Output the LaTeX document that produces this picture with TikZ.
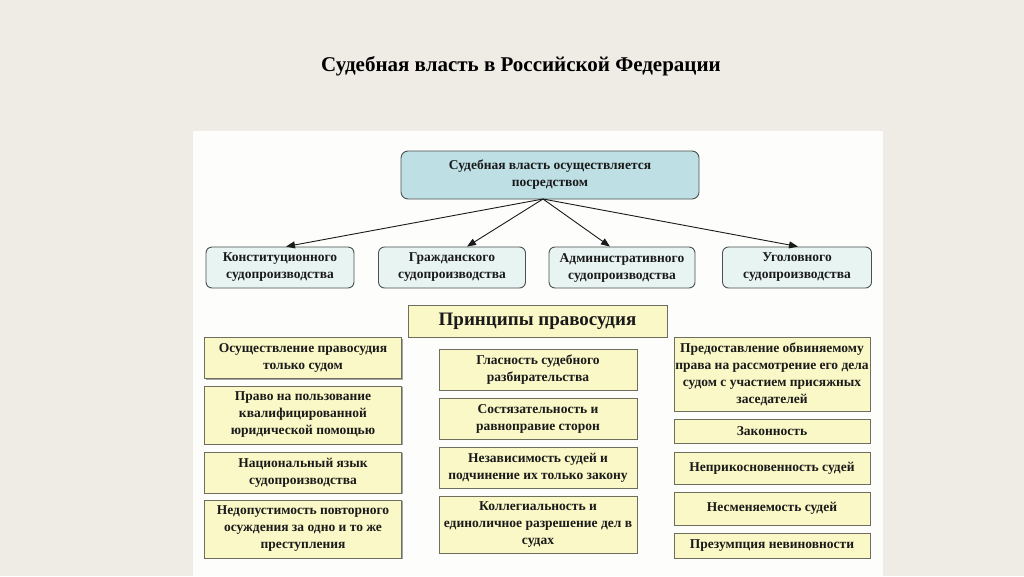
\documentclass[tikz,border=0pt]{standalone}
\usepackage{fontspec}
\setmainfont{Liberation Serif}
\usetikzlibrary{arrows.meta,shadows}
\definecolor{bgc}{HTML}{EFECE6}
\definecolor{panel}{HTML}{FDFDFC}
\definecolor{topfill}{HTML}{BEE0E5}
\definecolor{kindfill}{HTML}{E7F4F1}
\definecolor{boxline}{HTML}{4A4F4F}
\definecolor{yfill}{HTML}{FAF8C6}
\definecolor{yline}{HTML}{6E6E5E}
\definecolor{txt}{HTML}{1A1A1A}
\begin{document}
\begin{tikzpicture}[x=1pt,y=-1pt,
  boxfont/.style={font=\bfseries\fontsize{13.5}{17}\selectfont},
  topbox/.style={boxfont, draw=boxline, fill=topfill, rounded corners=7pt, line width=0.9pt,
    minimum width=298pt, minimum height=48pt, inner sep=0pt, align=center, text=txt},
  kindbox/.style={boxfont, draw=boxline, fill=kindfill, rounded corners=6pt, line width=0.9pt,
    minimum height=41pt, inner sep=0pt, align=center, text=txt},
  princbox/.style={boxfont, draw=yline, fill=yfill, line width=1pt, inner sep=0pt, align=center, text=txt,
    drop shadow={shadow xshift=1.2pt, shadow yshift=-1.2pt, fill=black, opacity=0.35}},
  lcol/.style={princbox, minimum width=197pt},
  mcol/.style={princbox, minimum width=198pt},
  rcol/.style={princbox, minimum width=196pt},
  arr/.style={-{Triangle[length=9pt,width=7pt]}, line width=0.9pt, draw=txt}
]
\useasboundingbox (0,0) rectangle (1024,576);
\fill[bgc] (0,0) rectangle (1024,576);
\fill[panel] (193,131) rectangle (883,576);

\node[font=\bfseries\fontsize{21}{24}\selectfont, text=black] (title) at (521,66) {Судебная власть в Российской Федерации};

\node[topbox] (src) at (550,175) {Судебная власть осуществляется\\посредством};
\coordinate (hub) at (543,199);

\node[kindbox, minimum width=148pt] (k1) at (280,267.5) {Конституционного\\судопроизводства};
\node[kindbox, minimum width=147pt] (k2) at (452,267.5) {Гражданского\\судопроизводства};
\node[kindbox, minimum width=146pt] (k3) at (622,267.5) {Административного\\судопроизводства};
\node[kindbox, minimum width=149pt] (k4) at (797,267.5) {Уголовного\\судопроизводства};

\draw[arr] (hub) -- ([xshift=6pt]k1.north);
\draw[arr] (hub) -- ([xshift=15pt]k2.north);
\draw[arr] (hub) -- ([xshift=-12pt]k3.north);
\draw[arr] (hub) -- ([xshift=1pt]k4.north);

\node[princbox, minimum width=259pt, minimum height=32pt, font=\bfseries\fontsize{19}{22}\selectfont] (hdr) at (537.5,321) {Принципы правосудия};

\node[lcol, minimum height=41pt] (l1) at (303,358) {Осуществление правосудия\\только судом};
\node[lcol, minimum height=58pt] (l2) at (303,415) {Право на пользование\\квалифицированной\\юридической помощью};
\node[lcol, minimum height=41pt] (l3) at (303,472.5) {Национальный язык\\судопроизводства};
\node[lcol, minimum height=58pt] (l4) at (303,529) {Недопустимость повторного\\осуждения за одно и то же\\преступления};

\node[mcol, minimum height=41pt] (m1) at (538,369.5) {Гласность судебного\\разбирательства};
\node[mcol, minimum height=41pt] (m2) at (538,418.5) {Состязательность и\\равноправие сторон};
\node[mcol, minimum height=41pt] (m3) at (538,467.5) {Независимость судей и\\подчинение их только закону};
\node[mcol, minimum height=57pt] (m4) at (538,524.5) {Коллегиальность и\\единоличное разрешение дел в\\судах};

\node[rcol, minimum height=74pt] (r1) at (772,374) {Предоставление обвиняемому\\права на рассмотрение его дела\\судом с участием присяжных\\заседателей};
\node[rcol, minimum height=24pt] (r2) at (772,431) {Законность};
\node[rcol, minimum height=32pt] (r3) at (772,468) {Неприкосновенность судей};
\node[rcol, minimum height=33pt] (r4) at (772,508.5) {Несменяемость судей};
\node[rcol, minimum height=25pt] (r5) at (772,545.5) {Презумпция невиновности};
\end{tikzpicture}
\end{document}
